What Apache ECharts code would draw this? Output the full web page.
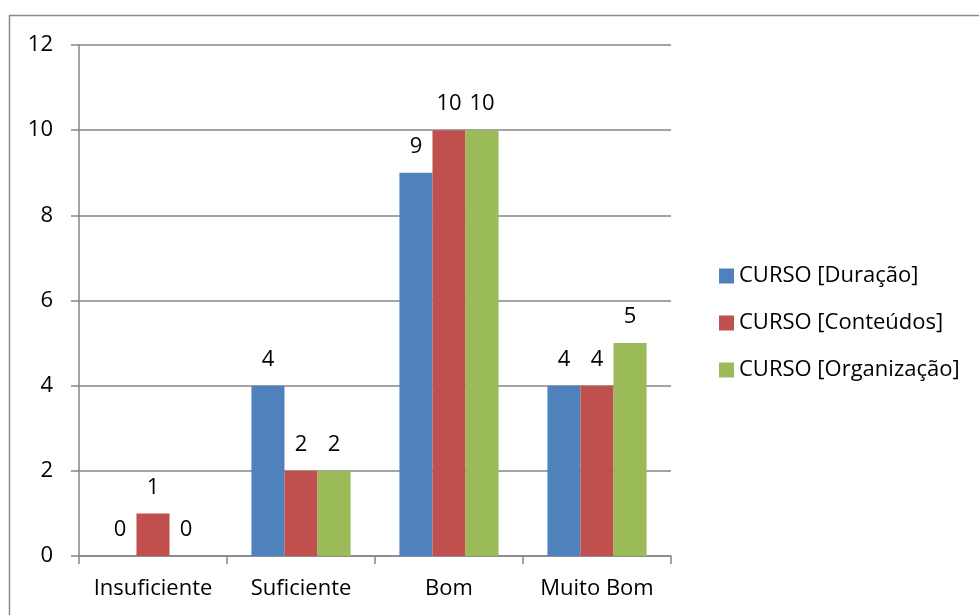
<!DOCTYPE html>
<html><head><meta charset="utf-8">
<script src="https://cdn.jsdelivr.net/npm/echarts@6/dist/echarts.min.js"></script>
<style>html,body{margin:0;padding:0;background:#fff}#c{width:979px;height:615px}</style>
</head><body><div id="c"></div>
<script>
const categories = ['Insuficiente', 'Suficiente', 'Bom', 'Muito Bom'];
const seriesNames = ['CURSO [Duração]', 'CURSO [Conteúdos]', 'CURSO [Organização]'];
const duracao = [0, 4, 9, 4];
const conteudos = [1, 2, 10, 4];
const organizacao = [0, 2, 10, 5];
const yTicks = [0, 2, 4, 6, 8, 10, 12];

const FONT = 'Open Sans';
const FS = 22;
const colors = ['#4F81BD', '#C0504D', '#9BBB59'];
const chart = echarts.init(document.getElementById('c'));
const mk = (name, data, i) => ({
  name, type: 'bar', data, barGap: '0%', barCategoryGap: '33%',
  itemStyle: { color: colors[i] },
  label: { show: true, position: 'top', distance: 15, color: '#000', fontFamily: FONT, fontSize: FS }
});
chart.setOption({
  animation: false,
  graphic: [{ type: 'rect', shape: { x: 9.5, y: 15.5, width: 1000, height: 700 }, style: { fill: 'none', stroke: '#8c8c8c', lineWidth: 1.5 }, z: -1 }],
  grid: { left: 79, right: 308, top: 45, bottom: 59 },
  legend: {
    orient: 'vertical', left: 714, top: 260, itemWidth: 15, itemHeight: 15, itemGap: 25,
    icon: 'rect', textStyle: { fontFamily: FONT, fontSize: FS, color: '#000' },
    data: seriesNames
  },
  xAxis: {
    type: 'category', data: categories,
    axisLine: { lineStyle: { color: '#868686', width: 1.5 } },
    axisTick: { show: true, length: 8, lineStyle: { color: '#868686', width: 1.5 } },
    axisLabel: { color: '#000', fontFamily: FONT, fontSize: FS, margin: 22, interval: 0, hideOverlap: false }
  },
  yAxis: {
    type: 'value', min: yTicks[0], max: yTicks[yTicks.length - 1], interval: 2,
    axisLine: { show: true, lineStyle: { color: '#868686', width: 1.5 } },
    axisTick: { show: true, length: 8, lineStyle: { color: '#868686', width: 1.5 } },
    splitLine: { lineStyle: { color: '#868686', width: 1.5 } },
    axisLabel: { color: '#000', fontFamily: FONT, fontSize: FS, margin: 26 }
  },
  series: [mk(seriesNames[0], duracao, 0), mk(seriesNames[1], conteudos, 1), mk(seriesNames[2], organizacao, 2)]
});
</script></body></html>
